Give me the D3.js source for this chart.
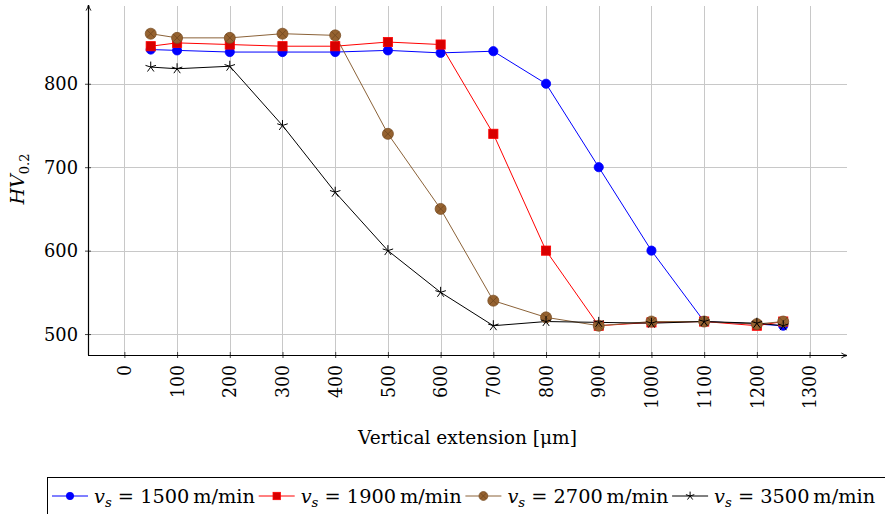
<!DOCTYPE html>
<html>
<head>
<meta charset="utf-8">
<script src="https://cdn.jsdelivr.net/npm/d3@7"></script>
<style>
  html, body { margin: 0; padding: 0; background: #fff; }
  svg { display: block; }
  svg text { font-family: "DejaVu Serif", serif; }
</style>
</head>
<body>
<svg id="chart" width="885" height="514"></svg>
<script>
// Hardness profile along the vertical extension for four cutting speeds
const depths = [50, 100, 200, 300, 400, 500, 600, 700, 800, 900, 1000, 1100, 1200, 1250];
const hv1500 = [841, 840, 838, 838, 838, 840, 837, 839, 800, 700, 600, 515, 512, 510];
const hv1900 = [845, 849, 847, 845, 845, 850, 847, 740, 600, 510, 514, 515, 510, 515];
const hv2700 = [860, 855, 855, 860, 858, 740, 650, 540, 520, 510, 515, 515, 512, 515];
const hv3500 = [820, 818, 821, 750, 670, 600, 550, 510, 515, 514, 513, 515, 513, 510];
const speeds = ["1500", "1900", "2700", "3500"];
const xTicks = [0, 100, 200, 300, 400, 500, 600, 700, 800, 900, 1000, 1100, 1200, 1300];
const yTicks = [500, 600, 700, 800];

const seriesStyle = [
  { values: hv1500, line: "#0000ff", fill: "#0000ff", mark: "circle" },
  { values: hv1900, line: "#ff0000", fill: "#d80000", mark: "square" },
  { values: hv2700, line: "#8b6238", fill: "#956230", mark: "otimes" },
  { values: hv3500, line: "#000000", fill: "#000000", mark: "star" }
];

const FONT = "'DejaVu Serif', serif";
const svg = d3.select("#chart").attr("font-family", FONT);
const plotL = 88, plotR = 847, plotT = 6, plotB = 355;

const x = d3.scaleLinear().domain([-69, 1371]).range([plotL, plotR]);
const y = d3.scaleLinear().domain([474.9, 893.2]).range([plotB, plotT]);

// grid
const grid = svg.append("g").attr("stroke", "#c8c8c8").attr("stroke-width", 1);
grid.selectAll("line.v").data(xTicks).join("line").attr("class", "v")
  .attr("x1", d => Math.round(x(d)) + 0.5).attr("x2", d => Math.round(x(d)) + 0.5)
  .attr("y1", plotT).attr("y2", plotB);
grid.selectAll("line.h").data(yTicks).join("line").attr("class", "h")
  .attr("y1", d => Math.round(y(d)) + 0.5).attr("y2", d => Math.round(y(d)) + 0.5)
  .attr("x1", plotL).attr("x2", plotR);

// axes with ticks crossing the axis lines
const xAxis = d3.axisBottom(x).tickValues(xTicks).tickSize(3).tickFormat("");
const gx = svg.append("g").attr("transform", `translate(0,${plotB})`).call(xAxis);
gx.select(".domain").remove();
gx.selectAll(".tick line").attr("y1", -3).attr("stroke", "#444");

const yAxis = d3.axisLeft(y).tickValues(yTicks).tickSize(3).tickFormat("");
const gy = svg.append("g").attr("transform", `translate(${plotL},0)`).call(yAxis);
gy.select(".domain").remove();
gy.selectAll(".tick line").attr("x1", 3).attr("stroke", "#444");

// axis lines with arrow heads
const defs = svg.append("defs");
defs.append("marker").attr("id", "arrow").attr("viewBox", "0 0 10 10")
  .attr("refX", 9).attr("refY", 5).attr("markerWidth", 7).attr("markerHeight", 7)
  .attr("markerUnits", "userSpaceOnUse").attr("orient", "auto")
  .append("path").attr("d", "M1,1.5 Q5,4 9,5 Q5,6 1,8.5").attr("fill", "none")
  .attr("stroke", "#000").attr("stroke-width", 1.3);
svg.append("line").attr("x1", plotL).attr("x2", plotR).attr("y1", plotB + 0.5).attr("y2", plotB + 0.5)
  .attr("stroke", "#000").attr("stroke-width", 1.2).attr("marker-end", "url(#arrow)");
svg.append("line").attr("x1", plotL + 0.5).attr("x2", plotL + 0.5).attr("y1", plotB).attr("y2", plotT - 1)
  .attr("stroke", "#000").attr("stroke-width", 1.2).attr("marker-end", "url(#arrow)");

// tick labels
svg.append("g").selectAll("text").data(yTicks).join("text")
  .attr("x", 78).attr("y", d => y(d)).attr("dy", "0.35em")
  .attr("text-anchor", "end").attr("font-size", 19)
  .attr("textLength", 34).attr("lengthAdjust", "spacingAndGlyphs").text(d => d);
svg.append("g").selectAll("text").data(xTicks).join("text")
  .attr("transform", d => `translate(${x(d)},365) rotate(-90)`)
  .attr("dy", "0.35em").attr("text-anchor", "end").attr("font-size", 19)
  .attr("textLength", d => String(d).length * 11).attr("lengthAdjust", "spacingAndGlyphs")
  .text(d => d);

// axis titles
svg.append("text").attr("x", (plotL + plotR) / 2).attr("y", 444).attr("text-anchor", "middle")
  .attr("font-size", 19).attr("textLength", 219).attr("lengthAdjust", "spacingAndGlyphs")
  .text("Vertical extension [μm]");
const yl = svg.append("text").attr("transform", "translate(24,179) rotate(-90)")
  .attr("text-anchor", "middle").attr("font-size", 19);
yl.append("tspan").attr("font-style", "italic").text("HV");
yl.append("tspan").attr("font-size", 13).attr("dy", 5).text("0.2");

// marker drawing
function drawMark(g, kind, fill, stroke, scale) {
  const k = scale || 1;
  if (kind === "circle") {
    g.append("circle").attr("r", 4.6 * k).attr("fill", fill).attr("stroke", stroke).attr("stroke-width", 0.8);
  } else if (kind === "square") {
    const h = 4.6 * k;
    g.append("rect").attr("x", -h).attr("y", -h).attr("width", 2 * h).attr("height", 2 * h)
      .attr("fill", fill).attr("stroke", stroke).attr("stroke-width", 0.8);
  } else if (kind === "otimes") {
    const R = 5.5 * k;
    g.append("circle").attr("r", R).attr("fill", fill).attr("stroke", "#7a4f26").attr("stroke-width", 0.8);
    const r = R * Math.SQRT1_2;
    g.append("path").attr("d", `M${-r},${-r}L${r},${r}M${-r},${r}L${r},${-r}`)
      .attr("stroke", "#6e4620").attr("stroke-width", 0.8);
  } else if (kind === "star") {
    let d = "";
    const R = 5.5 * k;
    for (let j = 0; j < 5; j++) {
      const a = -Math.PI / 2 + j * 2 * Math.PI / 5;
      d += `M0,0L${(R * Math.cos(a)).toFixed(2)},${(R * Math.sin(a)).toFixed(2)}`;
    }
    g.append("path").attr("d", d).attr("stroke", stroke).attr("stroke-width", 1).attr("fill", "none");
  }
}

// series
const line = d3.line().x(d => x(d[0])).y(d => y(d[1]));
seriesStyle.forEach(s => {
  const pts = depths.map((d, i) => [d, s.values[i]]);
  svg.append("path").attr("d", line(pts)).attr("fill", "none")
    .attr("stroke", s.line).attr("stroke-width", 1);
});
seriesStyle.forEach(s => {
  depths.forEach((d, i) => {
    const g = svg.append("g").attr("transform", `translate(${x(d)},${y(s.values[i])})`);
    drawMark(g, s.mark, s.fill, s.line);
  });
});

// legend
const lg = svg.append("g");
lg.append("rect").attr("x", 47.5).attr("y", 477.5).attr("width", 900).attr("height", 60)
  .attr("fill", "#fff").attr("stroke", "#000").attr("stroke-width", 1);
const entryW = 206.7, baseY = 503;
seriesStyle.forEach((s, i) => {
  const x0 = 52 + i * entryW;
  lg.append("line").attr("x1", x0).attr("x2", x0 + 36).attr("y1", 496).attr("y2", 496)
    .attr("stroke", s.line).attr("stroke-width", 1);
  drawMark(lg.append("g").attr("transform", `translate(${x0 + 18},496)`), s.mark, s.fill, s.line, 0.8);
  const t = lg.append("text").attr("x", x0 + 42).attr("y", baseY).attr("font-size", 19)
    .attr("textLength", 161).attr("lengthAdjust", "spacingAndGlyphs");
  t.append("tspan").attr("font-style", "italic").text("v");
  t.append("tspan").attr("font-style", "italic").attr("font-size", 13).attr("dy", 4).text("s");
  t.append("tspan").attr("dy", -4).text(` = ${speeds[i]}\u2009m/min`);
});
</script>
</body>
</html>
